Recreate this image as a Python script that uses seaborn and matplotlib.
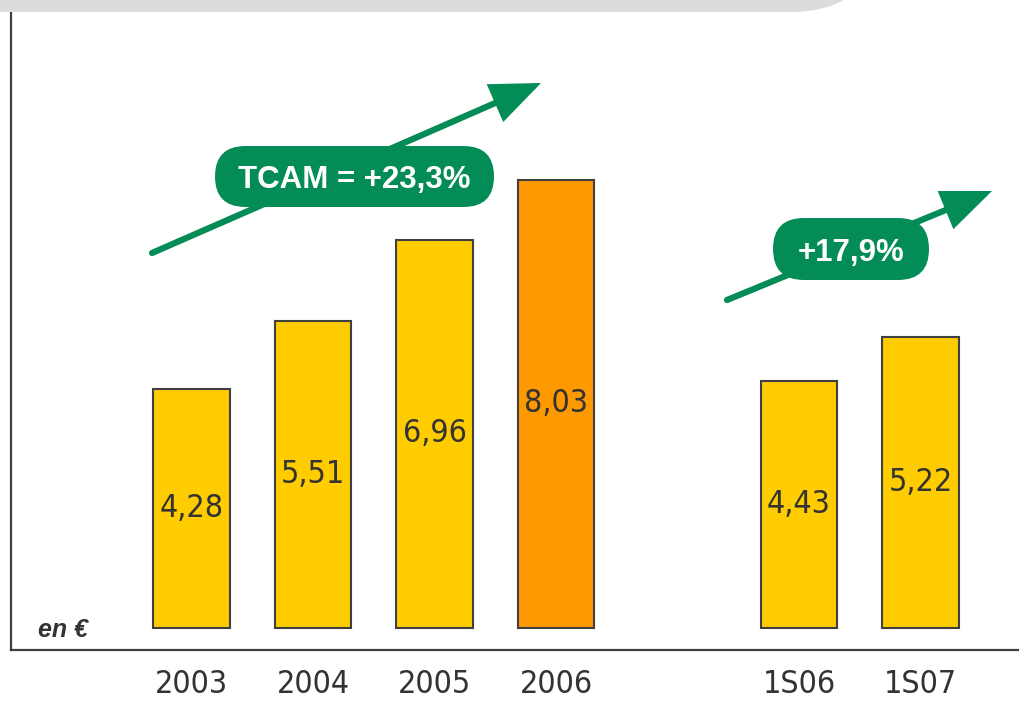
import matplotlib
matplotlib.use("Agg")
import matplotlib.pyplot as plt
from matplotlib import font_manager
import seaborn as sns
from matplotlib.patches import FancyBboxPatch

# data
years = ["2003", "2004", "2005", "2006", "1S06", "1S07"]
values = [4.28, 5.51, 6.96, 8.03, 4.43, 5.22]
# a blank slot separates the full years from the half-years
order = ["2003", "2004", "2005", "2006", " ", "1S06", "1S07"]
colors = {"2003": "#FFCC00", "2004": "#FFCC00", "2005": "#FFCC00",
          "2006": "#FF9900", "1S06": "#FFCC00", "1S07": "#FFCC00"}
growth_labels = ["TCAM = +23,3%", "+17,9%"]
unit_label = "en €"

green = "#038C55"
dark = "#333333"


# the numbers use a narrow face; take one if it is installed
def narrow_font(size):
    files = [f.fname for f in font_manager.fontManager.ttflist]
    for key in ["LiberationSansNarrow-Regular", "DejaVuSansCondensed.ttf"]:
        for fn in files:
            if key in fn:
                return font_manager.FontProperties(fname=fn, size=size)
    return font_manager.FontProperties(family="Liberation Sans", size=size - 2)


num_font = narrow_font(23)

sns.set_style("white")
plt.rcParams["font.family"] = ["Liberation Sans", "DejaVu Sans"]

fig = plt.figure(figsize=(10.2, 7.01), dpi=100)
ax = fig.add_axes([11 / 1020, 51 / 701, 1009 / 1020, 650 / 701])

sns.barplot(x=years, y=values, order=order, hue=years, palette=colors,
            legend=False, width=0.63, edgecolor="#404040", linewidth=1.5,
            saturation=1, ax=ax)

# values in the middle of each bar
for bar in ax.patches:
    h = bar.get_height()
    if h > 0:
        ax.text(bar.get_x() + bar.get_width() / 2, h / 2,
                f"{h:.2f}".replace(".", ","), ha="center", va="center",
                fontproperties=num_font, color=dark)

ax.set_xlim(-1.486, 6.819)
ax.set_ylim(-0.394, 11.254)
ax.set_yticks([])
ax.set_xlabel("")
ax.set_ylabel("")
ax.tick_params(axis="x", length=0, pad=14, labelcolor=dark)
for lab in ax.get_xticklabels():
    lab.set_fontproperties(num_font)
sns.despine(ax=ax, top=True, right=True)
for side in ["left", "bottom"]:
    ax.spines[side].set_color("#404040")
    ax.spines[side].set_linewidth(1.6)

fig.text(38 / 1020, 1 - 630 / 701, unit_label, ha="left", va="center",
         fontsize=18, fontweight="bold", fontstyle="italic", color=dark)

# grey band at top
inch = fig.dpi_scale_trans
band = FancyBboxPatch((-1.0, 6.89), 9.8, 2.2,
                      boxstyle="round,pad=0,rounding_size=0.9",
                      fc="#DCDCDC", ec="none", transform=inch, zorder=5)
fig.patches.append(band)

# growth arrows with pill labels
arrows = [((1.52, 4.48), (5.41, 6.18)), ((7.27, 4.01), (9.92, 5.10))]
pills = [(2.15, 4.94, 2.79, 0.61), (7.73, 4.21, 1.56, 0.62)]
for (start, tip), (px, py, pw, ph), txt in zip(arrows, pills, growth_labels):
    ax.annotate("", xy=tip, xycoords=inch, xytext=start, textcoords=inch,
                arrowprops=dict(arrowstyle="-|>,head_length=2.8,head_width=1.15",
                                color=green, lw=4.5, shrinkA=0, shrinkB=0,
                                mutation_scale=10, joinstyle="miter"),
                annotation_clip=False, zorder=6)
    pill = FancyBboxPatch((px, py), pw, ph,
                          boxstyle=f"round,pad=0,rounding_size={ph / 2}",
                          fc=green, ec="none", transform=inch, zorder=7)
    fig.patches.append(pill)
    fig.text(px + pw / 2, py + ph / 2, txt, transform=inch, ha="center",
             va="center_baseline", fontsize=22.5, fontweight="bold",
             color="white", zorder=8)

fig.savefig("out.png", dpi=100)
